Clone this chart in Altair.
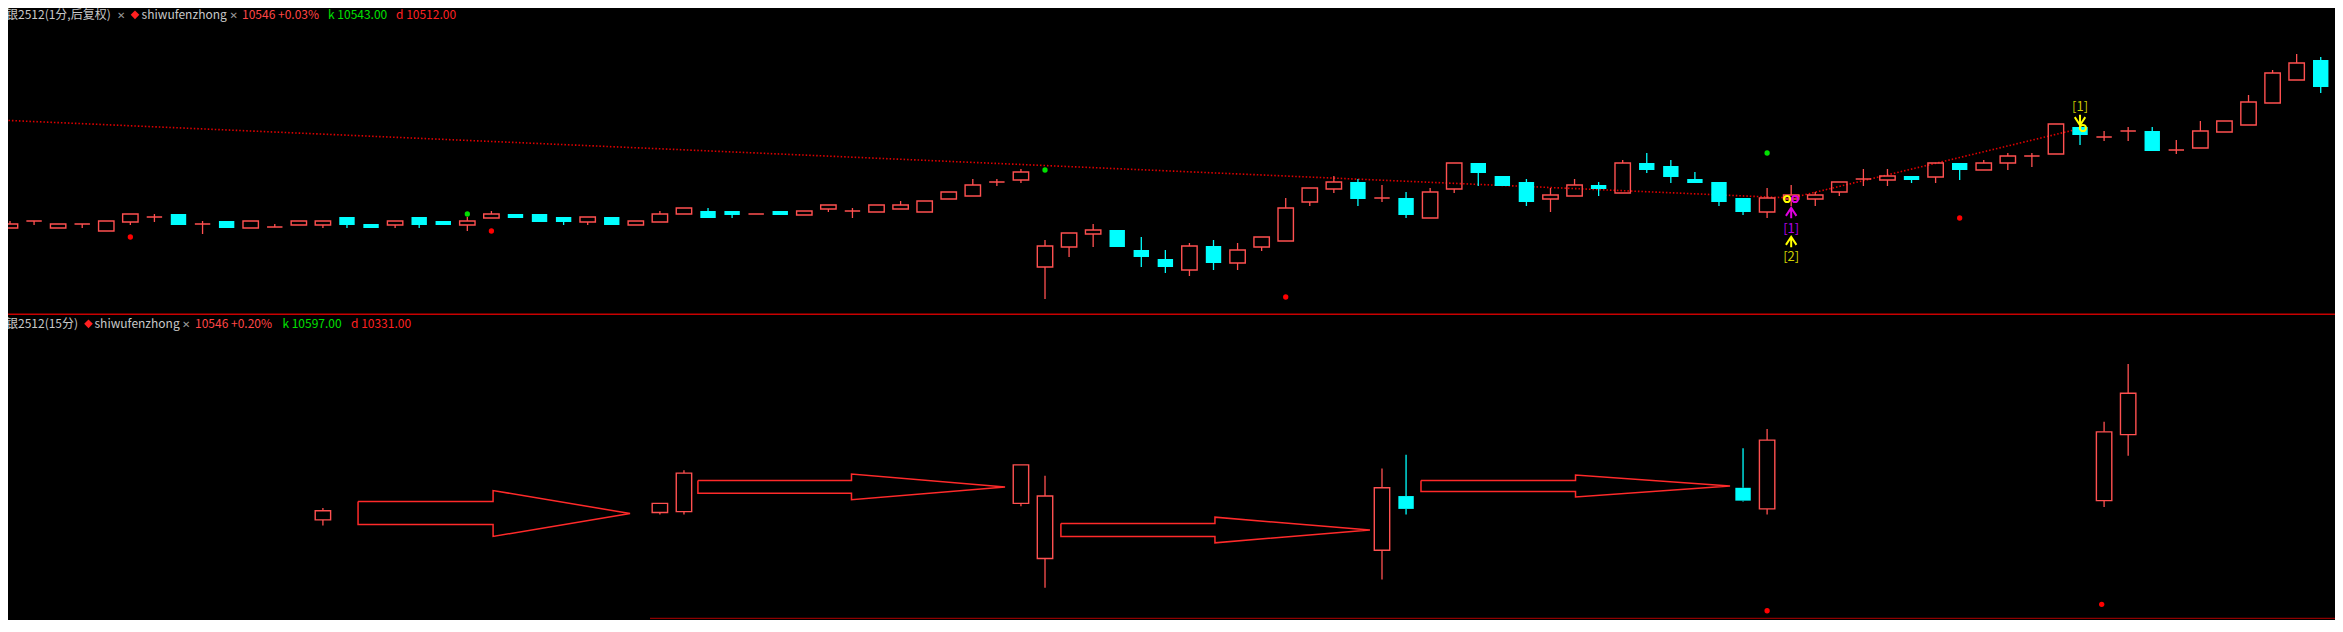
import altair as alt
import pandas as pd

FONT = "Noto Sans CJK SC"
PANEL_W = 2327
TOP_H = 307
BOT_H = 305
OFF = 8  # page margin offset (reference pixel -> chart pixel)

# ---------------- 1-minute candles (top panel) ----------------
m1_open = [10404, 10411, 10404, 10408, 10401, 10410, 10415, 10418, 10408, 10411,
           10404, 10405, 10407, 10407, 10415, 10408, 10407, 10415, 10411, 10407,
           10414, 10418, 10418, 10415, 10410, 10415, 10407, 10410, 10418, 10421,
           10421, 10418, 10421, 10417, 10423, 10421, 10420, 10423, 10420, 10433,
           10436, 10450, 10452, 10365, 10385, 10398, 10402, 10382, 10373, 10362,
           10386, 10369, 10385, 10391, 10430, 10443, 10450, 10434, 10434, 10414,
           10443, 10469, 10456, 10450, 10433, 10436, 10447, 10439, 10469, 10466,
           10453, 10450, 10434, 10420, 10433, 10433, 10440, 10453, 10452, 10456,
           10455, 10469, 10462, 10469, 10476, 10478, 10505, 10495, 10501, 10501,
           10482, 10484, 10500, 10507, 10529, 10552, 10572, 10543]
m1_high = [10411, 10411, 10408, 10408, 10411, 10418, 10418, 10418, 10411, 10411,
           10411, 10408, 10411, 10411, 10415, 10408, 10411, 10415, 10411, 10415,
           10421, 10418, 10418, 10415, 10415, 10415, 10411, 10421, 10424, 10424,
           10421, 10418, 10421, 10421, 10427, 10424, 10427, 10431, 10431, 10440,
           10453, 10453, 10463, 10392, 10399, 10408, 10402, 10395, 10382, 10389,
           10392, 10389, 10395, 10434, 10444, 10456, 10453, 10447, 10440, 10444,
           10469, 10469, 10456, 10453, 10444, 10453, 10450, 10472, 10479, 10472,
           10460, 10450, 10434, 10444, 10447, 10440, 10450, 10463, 10463, 10456,
           10469, 10469, 10472, 10479, 10479, 10508, 10505, 10501, 10505, 10505,
           10492, 10511, 10511, 10537, 10562, 10578, 10575, 10546]
m1_low = [10404, 10407, 10404, 10404, 10401, 10407, 10410, 10407, 10398, 10404,
          10404, 10405, 10407, 10404, 10404, 10404, 10404, 10404, 10407, 10401,
          10414, 10414, 10410, 10407, 10407, 10407, 10407, 10410, 10418, 10414,
          10414, 10418, 10417, 10417, 10420, 10414, 10420, 10423, 10420, 10433,
          10436, 10446, 10449, 10333, 10375, 10385, 10385, 10365, 10359, 10356,
          10362, 10362, 10381, 10391, 10426, 10439, 10426, 10430, 10414, 10414,
          10439, 10446, 10446, 10426, 10420, 10436, 10436, 10439, 10459, 10449,
          10449, 10426, 10417, 10414, 10426, 10426, 10436, 10446, 10446, 10449,
          10449, 10452, 10462, 10462, 10465, 10478, 10487, 10491, 10491, 10481,
          10478, 10484, 10500, 10507, 10529, 10552, 10539, 10543]
m1_close = [10408, 10411, 10408, 10408, 10411, 10418, 10415, 10407, 10408, 10404,
            10411, 10405, 10411, 10411, 10407, 10404, 10411, 10407, 10407, 10411,
            10418, 10414, 10410, 10410, 10415, 10407, 10411, 10418, 10424, 10414,
            10417, 10418, 10417, 10421, 10427, 10421, 10427, 10427, 10431, 10440,
            10447, 10450, 10460, 10386, 10399, 10402, 10385, 10375, 10365, 10386,
            10369, 10382, 10395, 10424, 10444, 10450, 10433, 10434, 10417, 10440,
            10469, 10459, 10446, 10430, 10437, 10447, 10443, 10469, 10462, 10455,
            10449, 10430, 10420, 10434, 10437, 10437, 10450, 10453, 10456, 10452,
            10469, 10462, 10469, 10476, 10476, 10508, 10497, 10495, 10501, 10481,
            10482, 10501, 10511, 10530, 10559, 10569, 10545, 10546]
m1_idx = list(range(len(m1_open)))

# signal dots on the 1-minute panel
green_idx = [19, 43, 73]
green_price = [10418, 10462, 10479]
red_idx = [5, 20, 53, 81]
red_price = [10395, 10401, 10335, 10414]

# dotted trend line
trend_idx = [-0.5, 74, 86.1]
trend_price = [10512, 10434, 10504]

# annotation markers
circ_idx = [73.83, 74.16, 86.12]
circ_price = [10433, 10433, 10504]
circ_color = ["#ffff00", "#e000e0", "#ffff00"]
uparrow_idx = [74, 74]
uparrow_price = [10419, 10390]
uparrow_color = ["#e000e0", "#ffff00"]
downarrow_idx = [86]
downarrow_price = [10512]
downarrow_color = ["#ffff00"]
tag_text = ["[1]", "[2]", "[1]"]
tag_idx = [74, 74, 86]
tag_price = [10403, 10375, 10525]
tag_color = ["#b400e6", "#d2d200", "#c8c800"]

# ---------------- 15-minute candles (bottom panel) ----------------
m15_idx = [13, 27, 28, 42, 43, 57, 58, 72, 73, 87, 88]
m15_open = [10408, 10416, 10417, 10426, 10366, 10375, 10434, 10443, 10420, 10429, 10501]
m15_high = [10421, 10426, 10462, 10468, 10456, 10464, 10479, 10486, 10507, 10515, 10578]
m15_low = [10402, 10414, 10414, 10423, 10334, 10343, 10414, 10428, 10414, 10422, 10478]
m15_close = [10418, 10426, 10459, 10468, 10434, 10443, 10420, 10429, 10495, 10504, 10546]
m15_red_idx = [73, 86.9]
m15_red_price = [10309, 10316]

# hollow arrows between 15-minute bars
arrow_x0 = [14.46, 28.58, 43.66, 58.62]
arrow_xs = [20.07, 34.96, 50.06, 65.04]
arrow_xt = [25.76, 41.34, 56.50, 71.46]
arrow_shaft_top = [10428, 10451, 10404, 10451]
arrow_shaft_bot = [10403, 10437, 10390, 10439]
arrow_head_top = [10440, 10458, 10411, 10457]
arrow_head_bot = [10390, 10430, 10383, 10433]
arrow_tip = [10415, 10444, 10397, 10445]

# header texts: (text, left x in reference px, colour, font size, font)
CROSS_FONT = "DejaVu Sans"
top_header = [("白银2512(1分,后复权)", -6, "#c8c8c8", 12, FONT),
              ("✕", 117, "#9a9a9a", 10, CROSS_FONT),
              ("shiwufenzhong", 141.6, "#c8c8c8", 12, FONT),
              ("✕", 229.6, "#9a9a9a", 10, CROSS_FONT),
              ("10546 +0.03%", 242, "#ff4646", 12, FONT),
              ("k 10543.00", 328, "#00e000", 12, FONT),
              ("d 10512.00", 396, "#ff2020", 12, FONT)]
bot_header = [("白银2512(15分)", -6, "#c8c8c8", 12, FONT),
              ("shiwufenzhong", 94.5, "#c8c8c8", 12, FONT),
              ("✕", 182, "#9a9a9a", 10, CROSS_FONT),
              ("10546 +0.20%", 195, "#ff4646", 12, FONT),
              ("k 10597.00", 282.4, "#00e000", 12, FONT),
              ("d 10331.00", 351, "#ff2020", 12, FONT)]

X_DOMAIN = [-0.083, 96.593]
Y_TOP = [10317, 10624]
Y_BOT = [10298.9, 10631.35]

UP = "#ff5050"
DOWN = "#00ffff"


def X(field):
    return alt.X(field, type="quantitative",
                 scale=alt.Scale(domain=X_DOMAIN, nice=False, zero=False), axis=None)


def Y(field, dom):
    return alt.Y(field, type="quantitative",
                 scale=alt.Scale(domain=dom, nice=False, zero=False), axis=None)


def candle_layers(idx, o, h, l, c, dom):
    df = pd.DataFrame({"idx": idx, "o": o, "h": h, "l": l, "c": c})
    df["top"] = df[["o", "c"]].max(axis=1)
    df["bot"] = df[["o", "c"]].min(axis=1)
    df["col"] = [DOWN if cc < oo else UP for oo, cc in zip(df.o, df.c)]
    df["x0"] = df.idx - 0.32
    df["x1"] = df.idx + 0.32
    base = alt.Chart(df)
    col = alt.Color("col:N", scale=None)
    up_wick = base.mark_rule(strokeWidth=1.3, clip=True).encode(
        x=X("idx"), y=Y("top", dom), y2="h:Q", color=col)
    lo_wick = base.mark_rule(strokeWidth=1.3, clip=True).encode(
        x=X("idx"), y=Y("l", dom), y2="bot:Q", color=col)
    hollow = base.transform_filter("datum.c >= datum.o").mark_rect(
        filled=False, strokeWidth=1.4, clip=True).encode(
        x=X("x0"), x2="x1:Q", y=Y("bot", dom), y2="top:Q", color=col)
    solid = base.transform_filter("datum.c < datum.o").mark_rect(clip=True).encode(
        x=X("x0"), x2="x1:Q", y=Y("bot", dom), y2="top:Q", color=col)
    return [up_wick, lo_wick, hollow, solid]


def header_layers(items, baseline_y, dia_x):
    layers = []
    for text, x, color, fs, font in items:
        layers.append(alt.Chart(pd.DataFrame({"t": [text]})).mark_text(
            align="left", baseline="alphabetic", font=font, fontSize=fs, color=color, clip=True
        ).encode(x=alt.value(x - OFF), y=alt.value(baseline_y), text="t:N"))
    layers.append(alt.Chart(pd.DataFrame({"t": [0]})).mark_point(
        shape="diamond", filled=True, size=75, color="#ff2020", opacity=1, clip=True
    ).encode(x=alt.value(dia_x - OFF), y=alt.value(baseline_y - 4.2)))
    return layers


# ---------------- top panel ----------------
top_layers = []
trend_df = pd.DataFrame({"idx": trend_idx, "p": trend_price})
top_layers.append(alt.Chart(trend_df).mark_line(
    color="#e00000", strokeWidth=1.6, strokeDash=[1.5, 2], strokeCap="butt", clip=True
).encode(x=X("idx"), y=Y("p", Y_TOP)))
top_layers += candle_layers(m1_idx, m1_open, m1_high, m1_low, m1_close, Y_TOP)

top_layers.append(alt.Chart(pd.DataFrame({"idx": green_idx, "p": green_price})).mark_point(
    shape="circle", filled=True, size=28, color="#00e000", opacity=1, clip=True
).encode(x=X("idx"), y=Y("p", Y_TOP)))
top_layers.append(alt.Chart(pd.DataFrame({"idx": red_idx, "p": red_price})).mark_point(
    shape="circle", filled=True, size=28, color="#ff0000", opacity=1, clip=True
).encode(x=X("idx"), y=Y("p", Y_TOP)))

top_layers.append(alt.Chart(pd.DataFrame({"idx": circ_idx, "p": circ_price, "col": circ_color})).mark_point(
    shape="circle", filled=False, size=38, strokeWidth=2, opacity=1, clip=True
).encode(x=X("idx"), y=Y("p", Y_TOP), color=alt.Color("col:N", scale=None)))

UP_PATH = "M-1,0.55L0,-1L1,0.55M0,-1L0,1"
DOWN_PATH = "M-1,-0.55L0,1L1,-0.55M0,1L0,-1"
top_layers.append(alt.Chart(pd.DataFrame({"idx": uparrow_idx, "p": uparrow_price, "col": uparrow_color})).mark_point(
    shape=UP_PATH, filled=False, size=110, strokeWidth=2, opacity=1, clip=True
).encode(x=X("idx"), y=Y("p", Y_TOP), color=alt.Color("col:N", scale=None)))
top_layers.append(alt.Chart(pd.DataFrame({"idx": downarrow_idx, "p": downarrow_price, "col": downarrow_color})).mark_point(
    shape=DOWN_PATH, filled=False, size=110, strokeWidth=2, opacity=1, clip=True
).encode(x=X("idx"), y=Y("p", Y_TOP), color=alt.Color("col:N", scale=None)))
top_layers.append(alt.Chart(pd.DataFrame({"idx": tag_idx, "p": tag_price, "t": tag_text, "col": tag_color})).mark_text(
    font=FONT, fontSize=13, align="center", baseline="middle", clip=True
).encode(x=X("idx"), y=Y("p", Y_TOP), text="t:N", color=alt.Color("col:N", scale=None)))

top_layers += header_layers(top_header, 19 - OFF, 135)
top_layers.append(alt.Chart(pd.DataFrame({"t": [0]})).mark_rule(
    color="#c80000", strokeWidth=1.5, clip=True
).encode(x=alt.value(0), x2=alt.value(PANEL_W), y=alt.value(306.3)))

top = alt.layer(*top_layers).properties(width=PANEL_W, height=TOP_H)

# ---------------- bottom panel ----------------
bot_layers = []
rows = []
for k in range(len(arrow_x0)):
    pts = [(arrow_x0[k], arrow_shaft_top[k]), (arrow_xs[k], arrow_shaft_top[k]),
           (arrow_xs[k], arrow_head_top[k]), (arrow_xt[k], arrow_tip[k]),
           (arrow_xs[k], arrow_head_bot[k]), (arrow_xs[k], arrow_shaft_bot[k]),
           (arrow_x0[k], arrow_shaft_bot[k]), (arrow_x0[k], arrow_shaft_top[k])]
    for j, (xx, yy) in enumerate(pts):
        rows.append({"arrow": k, "ord": j, "idx": xx, "p": yy})
arrow_df = pd.DataFrame(rows)
bot_layers.append(alt.Chart(arrow_df).mark_line(
    color="#ff2a2a", strokeWidth=1.5, clip=True
).encode(x=X("idx"), y=Y("p", Y_BOT), detail="arrow:N", order="ord:Q"))

bot_layers += candle_layers(m15_idx, m15_open, m15_high, m15_low, m15_close, Y_BOT)
bot_layers.append(alt.Chart(pd.DataFrame({"idx": m15_red_idx, "p": m15_red_price})).mark_point(
    shape="circle", filled=True, size=28, color="#ff0000", opacity=1, clip=True
).encode(x=X("idx"), y=Y("p", Y_BOT)))
bot_layers += header_layers(bot_header, 328 - 315, 88.5)
bot_layers.append(alt.Chart(pd.DataFrame({"t": [0]})).mark_rule(
    color="#8c0000", strokeWidth=1.3, clip=True
).encode(x=alt.value(650 - OFF), x2=alt.value(PANEL_W), y=alt.value(618.3 - 315)))

bottom = alt.layer(*bot_layers).properties(width=PANEL_W, height=BOT_H)

chart = alt.vconcat(top, bottom, spacing=0).properties(
    padding=0, background="#000000"
).configure_view(strokeWidth=0)

chart.save("out.html", embed_options={"renderer": "svg", "actions": False})
